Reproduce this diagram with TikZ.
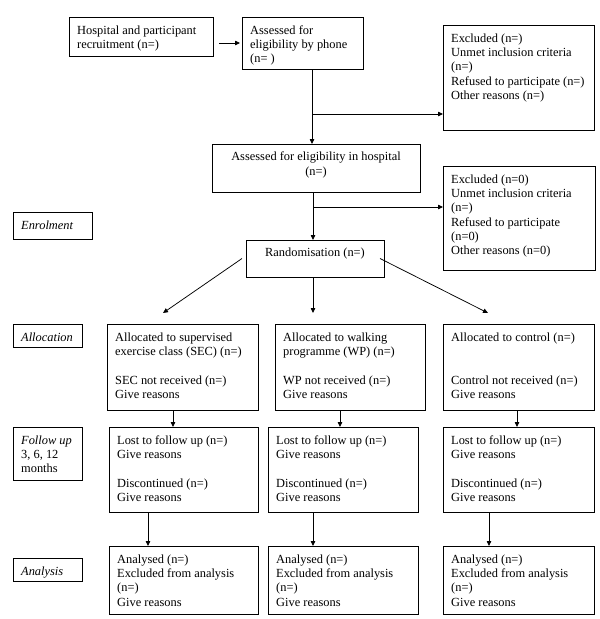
\documentclass[tikz,border=0pt]{standalone}
\usepackage{fontspec}
\setmainfont{Liberation Serif}
\usetikzlibrary{arrows.meta}
\tikzset{
  frame/.style={draw, line width=0.85pt, inner sep=0pt, outer sep=0pt},
  txt/.style={inner sep=0pt, align=left, font=\fontsize{12.4}{14.3}\selectfont},
  ctxt/.style={inner sep=0pt, align=center, font=\fontsize{12.4}{14.3}\selectfont},
  arr/.style={line width=0.75pt, -{Triangle[length=5pt,width=4.5pt]}},
  ln/.style={line width=0.75pt}
}
% #1 name, #2 x1, #3 y1, #4 x2, #5 y2, #6 text (left aligned)
\newcommand\boxL[6]{%
  \node[frame, minimum width={(#4-#2)*1pt}, minimum height={(#5-#3)*1pt}] (#1) at ({(#2+#4)/2},{(#3+#5)/2}) {};
  \node[txt, anchor=north west] (#1t) at ({#2+8},{#3+7}) {\strut #6};}
% centered text
\newcommand\boxC[6]{%
  \node[frame, minimum width={(#4-#2)*1pt}, minimum height={(#5-#3)*1pt}] (#1) at ({(#2+#4)/2},{(#3+#5)/2}) {};
  \node[ctxt, anchor=north] (#1t) at ({(#2+#4)/2},{#3+6.5}) {\strut #6};}
\begin{document}
\begin{tikzpicture}[x=1pt,y=-1pt]
\useasboundingbox (0,0) rectangle (600,619);
\boxL{hosp}{69}{17}{213}{56}{Hospital and participant\\recruitment (n=)}
\boxL{phone}{242}{17}{363}{69}{Assessed for\\eligibility by phone\\(n= )}
\boxL{excA}{443}{25}{594}{130}{Excluded (n=)\\Unmet inclusion criteria\\(n=)\\Refused to participate (n=)\\Other reasons (n=)}
\boxC{inhosp}{212}{144}{420}{192}{Assessed for eligibility in hospital\\(n=)}
\boxL{excB}{443}{166}{595}{270}{Excluded (n=0)\\Unmet inclusion criteria\\(n=)\\Refused to participate\\(n=0)\\Other reasons (n=0)}
\boxC{rand}{246}{240}{384}{277}{Randomisation (n=)}
\boxL{enrol}{13}{212}{92}{239}{\textit{Enrolment}}
\boxL{alloc}{13}{324}{82}{347}{\textit{Allocation}}
\boxL{sec}{107}{324}{258}{410}{Allocated to supervised\\exercise class (SEC) (n=)\\~\\SEC not received (n=)\\Give reasons}
\boxL{wp}{275}{324}{425}{410}{Allocated to walking\\programme (WP) (n=)\\~\\WP not received (n=)\\Give reasons}
\boxL{ctl}{443}{324}{594}{410}{Allocated to control (n=)\\~\\~\\Control not received (n=)\\Give reasons}
\boxL{follow}{13}{427}{82}{480}{\textit{Follow up}\\3, 6, 12\\months}
\boxL{fsec}{109}{427}{258}{512}{Lost to follow up (n=)\\Give reasons\\~\\Discontinued (n=)\\Give reasons}
\boxL{fwp}{268}{427}{418}{512}{Lost to follow up (n=)\\Give reasons\\~\\Discontinued (n=)\\Give reasons}
\boxL{fctl}{443}{427}{594}{512}{Lost to follow up (n=)\\Give reasons\\~\\Discontinued (n=)\\Give reasons}
\boxL{anal}{13}{558}{82}{581}{\textit{Analysis}}
\boxL{asec}{109}{546}{258}{614}{Analysed (n=)\\Excluded from analysis\\(n=)\\Give reasons}
\boxL{awp}{268}{546}{418}{614}{Analysed (n=)\\Excluded from analysis\\(n=)\\Give reasons}
\boxL{actl}{443}{546}{594}{614}{Analysed (n=)\\Excluded from analysis\\(n=)\\Give reasons}
% connectors
\draw[arr, shorten <=6pt, shorten >=2pt] (hosp.east |- phone.west) -- (phone.west);
\coordinate (b1) at (312,114);
\draw[ln] (b1 |- phone.south) -- (b1);
\draw[arr] (b1) -- (b1 |- inhosp.north);
\draw[arr] (b1) -- (b1 -| excA.west);
\coordinate (b2) at (313,207);
\draw[ln] (b2 |- inhosp.south) -- (b2);
\draw[arr] (b2) -- (b2 |- rand.north);
\draw[arr] (b2) -- (b2 -| excB.west);
\coordinate (dl) at (163,313);
\coordinate (dm) at (313,313);
\coordinate (dr) at (488,313);
\draw[arr] ([xshift=-4pt]rand.west) -- (dl);
\draw[arr] (dm |- rand.south) -- (dm);
\draw[arr] ([xshift=-4pt]rand.east) -- (dr);
\draw[arr] ([xshift=-9.5pt]sec.south) -- ([xshift=-9.5pt]sec.south |- fsec.north);
\draw[arr] ([xshift=-10pt]wp.south) -- ([xshift=-10pt]wp.south |- fwp.north);
\draw[arr] ([xshift=-1.5pt]ctl.south) -- ([xshift=-1.5pt]ctl.south |- fctl.north);
\draw[arr] ([xshift=-35.5pt]fsec.south) -- ([xshift=-35.5pt]fsec.south |- asec.north);
\draw[arr] ([xshift=-30pt]fwp.south) -- ([xshift=-30pt]fwp.south |- awp.north);
\draw[arr] ([xshift=-29.5pt]fctl.south) -- ([xshift=-29.5pt]fctl.south |- actl.north);
\end{tikzpicture}
\end{document}
